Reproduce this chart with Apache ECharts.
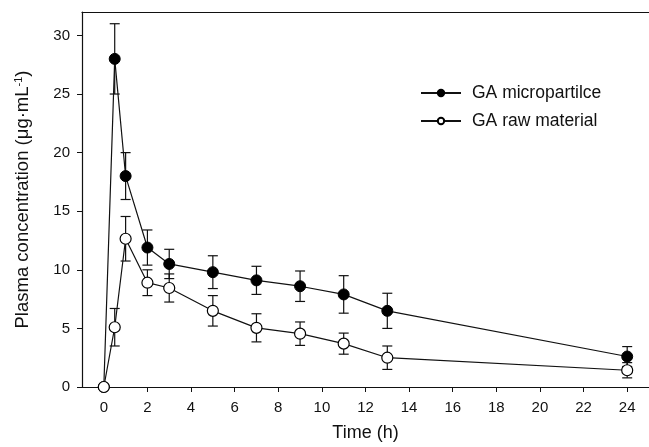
<!DOCTYPE html>
<html>
<head>
<meta charset="utf-8">
<script src="https://cdn.jsdelivr.net/npm/echarts@6/dist/echarts.min.js"></script>
<style>html,body{margin:0;padding:0;background:#fff}#c{width:649px;height:447px}</style>
</head>
<body>
<div id="c"></div>
<script>
const times = [0, 0.5, 1, 2, 3, 5, 7, 9, 11, 13, 24];
const microMean = [0, 28.0, 18.0, 11.9, 10.5, 9.8, 9.1, 8.6, 7.9, 6.5, 2.6];
const microSD   = [0, 3.0, 2.0, 1.5, 1.25, 1.4, 1.2, 1.3, 1.6, 1.5, 0.85];
const rawMean   = [0, 5.1, 12.65, 8.9, 8.45, 6.5, 5.05, 4.55, 3.7, 2.5, 1.43];
const rawSD     = [0, 1.6, 1.9, 1.1, 1.2, 1.3, 1.2, 1.0, 0.9, 1.0, 0.65];
const xTicks = [0, 2, 4, 6, 8, 10, 12, 14, 16, 18, 20, 22, 24];
const yTicks = [0, 5, 10, 15, 20, 25, 30];
const seriesNames = ['GA micropartilce', 'GA raw material'];

const font = '"Liberation Sans", Arial, sans-serif';
function errData(mean, sd) {
  return times.map((t, i) => [t, mean[i] - sd[i], mean[i] + sd[i]]).filter(d => d[2] > d[1]);
}
function errRender(params, api) {
  const x = api.value(0);
  const lo = api.coord([x, api.value(1)]);
  const hi = api.coord([x, api.value(2)]);
  const w = 5;
  const st = {stroke: '#111', lineWidth: 1.2};
  return {type: 'group', children: [
    {type: 'line', shape: {x1: lo[0], y1: lo[1], x2: hi[0], y2: hi[1]}, style: st},
    {type: 'line', shape: {x1: lo[0] - w, y1: lo[1], x2: lo[0] + w, y2: lo[1]}, style: st},
    {type: 'line', shape: {x1: hi[0] - w, y1: hi[1], x2: hi[0] + w, y2: hi[1]}, style: st}
  ]};
}
const chart = echarts.init(document.getElementById('c'), null, {renderer: 'canvas'});
chart.setOption({
  backgroundColor: '#fff',
  animation: false,
  textStyle: {fontFamily: font},
  grid: {left: 82, top: 12, right: -1, bottom: 55, show: false},
  legend: {
    orient: 'vertical', left: 415, top: 79, itemWidth: 40, itemHeight: 8, itemGap: 10,
    data: seriesNames,
    textStyle: {fontFamily: font, fontSize: 17.5, color: '#111', padding: [0, 0, 0, 6]}
  },
  xAxis: [{
    type: 'value', min: -1, max: 25,
    name: 'Time (h)', nameLocation: 'middle', nameGap: 37,
    nameTextStyle: {fontFamily: font, fontSize: 18, color: '#111'},
    axisLine: {onZero: false, lineStyle: {color: '#111', width: 1.2}},
    axisTick: {show: true, length: 5, inside: false, customValues: xTicks, lineStyle: {color: '#111'}},
    axisLabel: {customValues: xTicks, fontFamily: font, fontSize: 15, color: '#111', margin: 13},
    splitLine: {show: false}
  }, {
    type: 'value', position: 'top', min: -1, max: 25,
    axisLine: {show: true, onZero: false, lineStyle: {color: '#111', width: 1.2}},
    axisTick: {show: false}, axisLabel: {show: false}, splitLine: {show: false}
  }],
  yAxis: {
    type: 'value', min: 0, max: 32,
    name: 'Plasma concentration (μg·mL{sup|-1})', nameLocation: 'middle', nameGap: 50, nameRotate: 90,
    nameTextStyle: {fontFamily: font, fontSize: 18.5, color: '#111', rich: {sup: {fontSize: 11, verticalAlign: 'top', fontFamily: font, color: '#111', padding: [0, 0, 8, 0]}}},
    axisLine: {show: true, onZero: false, lineStyle: {color: '#111', width: 1.2}},
    axisTick: {show: true, length: 5, customValues: yTicks, lineStyle: {color: '#111'}},
    axisLabel: {customValues: yTicks, fontFamily: font, fontSize: 15, color: '#111', margin: 12},
    splitLine: {show: false}
  },
  series: [
    {type: 'custom', name: 'err1', renderItem: errRender, data: errData(microMean, microSD), encode: {x: 0, y: [1, 2]}, z: 1, silent: true},
    {type: 'custom', name: 'err2', renderItem: errRender, data: errData(rawMean, rawSD), encode: {x: 0, y: [1, 2]}, z: 1, silent: true},
    {type: 'line', name: seriesNames[0], data: times.map((t, i) => [t, microMean[i]]), symbol: 'circle', symbolSize: 11,
     lineStyle: {color: '#111', width: 1.2}, itemStyle: {color: '#000', borderColor: '#000', borderWidth: 1}, z: 3},
    {type: 'line', name: seriesNames[1], data: times.map((t, i) => [t, rawMean[i]]), symbol: 'circle', symbolSize: 11,
     lineStyle: {color: '#111', width: 1.2}, itemStyle: {color: '#fff', borderColor: '#000', borderWidth: 1.2}, z: 4}
  ]
});
</script>
</body>
</html>
